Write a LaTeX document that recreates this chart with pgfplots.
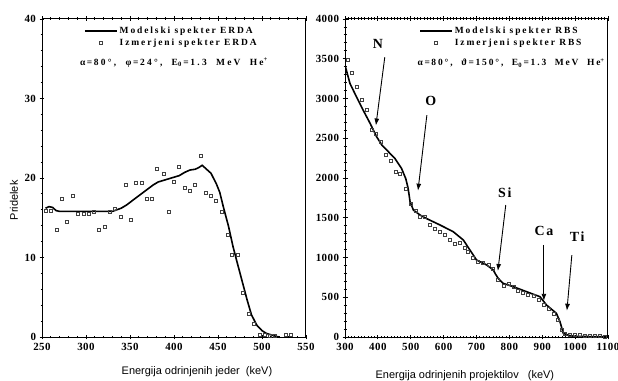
\documentclass[border=0pt]{standalone}
\usepackage{pgfplots}
\pgfplotsset{compat=1.18}
\usetikzlibrary{arrows.meta}
\usepackage{fontspec}
\setmainfont{Liberation Serif}
\newfontfamily\arial{Liberation Sans}
\newfontfamily\legfont[LetterSpace=20]{Liberation Serif}
\newfontfamily\parfont[LetterSpace=24]{Liberation Serif}
\newfontfamily\elfont[LetterSpace=12]{Liberation Serif}
\newfontfamily\tickfont[LetterSpace=4]{Liberation Serif}

\pgfplotstableread{
x y
254 16.2
258 16.4
262 16.3
266 15.9
270 15.8
330 15.8
335 16.0
340 16.2
346 16.6
352 17.1
358 17.6
364 18.1
370 18.6
376 19.1
382 19.5
388 19.7
394 19.9
400 20.1
406 20.3
412 20.7
418 21.0
424 21.1
428 21.3
432 21.6
436 21.2
442 20.6
448 19.3
452 18.2
456 16.4
462 13.9
467 11.4
471 9.7
477 7.2
483 4.7
488 2.8
494 1.5
500 0.8
505 0.45
511 0.25
517 0.05
520 0
}\erdamodel

\pgfplotstableread{
x y
254 15.85
260 15.85
267 13.5
272 17.4
278 14.5
285 17.7
291 15.5
297 15.5
303 15.5
309 15.8
315 13.5
321 13.8
327 15.8
333 16.1
339 15.1
345 19.1
351 14.8
357 19.4
363 19.4
369 17.4
375 17.4
381 21.1
388 20.5
394 15.8
400 19.5
406 21.4
412 18.8
418 18.4
424 19.1
430 22.8
436 18.2
442 17.8
448 17.1
454 15.8
461 12.8
466 10.4
472 10.3
478 5.5
485 2.9
491 1.6
497 0.3
503 0.3
509 0.1
515 0.1
527 0.3
533 0.3
}\erdameas

\pgfplotstableread{
x y
300 3420
315 3190
335 3020
355 2855
376 2690
396 2520
412 2415
432 2330
452 2245
472 2120
485 1990
492 1870
498 1700
508 1597
528 1535
548 1490
589 1409
629 1325
660 1220
680 1094
700 969
731 906
751 843
758 790
766 738
781 675
812 633
852 570
893 507
913 402
943 298
954 192
964 46
984 16
1000 8
1100 2
}\rbsmodel

\pgfplotstableread{
x y
307 3484
320 3317
336 3141
351 2981
366 2864
381 2612
394 2562
409 2457
425 2289
440 2218
455 2075
467 2050
485 1866
501 1673
515 1589
528 1506
543 1514
558 1417
574 1367
589 1325
604 1283
619 1220
634 1178
650 1186
665 1128
675 1073
690 998
705 947
720 935
736 906
751 859
766 717
782 646
797 667
812 633
827 578
842 562
857 537
873 516
888 465
904 402
919 361
934 298
946 214
959 88
970 46
985 30
1000 28
1015 22
1030 18
1045 14
1060 12
1075 10
1090 8
}\rbsmeas

\pgfplotsset{
  common/.style={
    scale only axis,
    axis line style={line width=1bp},
    tick align=center,
    xtick pos=both,
    ytick pos=left,
    major tick length=5bp,
    minor tick length=3bp,
    every tick/.style={black, line width=0.8bp},
    scaled ticks=false,
    /pgf/number format/assume math mode=true,
    /pgf/number format/set thousands separator={},
    ticklabel style={font=\fontsize{11}{13}\selectfont\tickfont\bfseries},
    legend cell align=left,
    legend style={draw=none, fill=none, font=\fontsize{9.5}{11}\selectfont\legfont\bfseries,
      row sep=-0.5bp, inner sep=1bp},
  },
  modelstyle/.style={black, line width=1.6bp, no markers,
    legend image code/.code={\draw[##1] (0bp,0bp) -- (32bp,0bp);}},
  measstyle/.style={only marks, mark=square, mark size=1.5bp,
    mark options={black!75, line width=0.6bp},
    legend image code/.code={\draw[##1] plot coordinates {(16bp,0bp)};}},
}

\begin{document}
\begin{tikzpicture}
\useasboundingbox (0,0) rectangle (618bp,381bp);
% ---------- left: ERDA ----------
\begin{axis}[common,
  at={(42bp,44bp)}, anchor=south west,
  width=264bp, height=318bp,
  xmin=250, xmax=550, ymin=0, ymax=40,
  xtick={250,300,...,550}, minor x tick num=4,
  ytick={0,10,20,30,40}, minor y tick num=4,
  xlabel={\arial\fontsize{11}{13}\selectfont Energija odrinjenih jeder\ \ (keV)},
  xlabel style={at={(axis description cs:0.587,-0.11)}, anchor=center},
  ylabel={\arial\fontsize{11}{13}\selectfont Pridelek},
  ylabel style={at={(axis description cs:-0.106,0.43)}, anchor=center},
  legend style={at={(axis description cs:0.155,0.985)}, anchor=north west},
]
\addplot[modelstyle] table {\erdamodel};
\addlegendentry{Modelski spekter ERDA}
\addplot[measstyle] table {\erdameas};
\addlegendentry{Izmerjeni spekter ERDA}
\node[font=\fontsize{9.5}{11}\selectfont\parfont\bfseries] at (axis description cs:0.50,0.862)
  {α\,=\,80°, \ φ\,=\,24°, \ E\textsubscript{0}\,=\,1.3 \ MeV \ He\textsuperscript{+}};
\end{axis}
% ---------- right: RBS ----------
\begin{axis}[common,
  at={(345bp,44bp)}, anchor=south west,
  width=263bp, height=318bp,
  xmin=300, xmax=1100, ymin=0, ymax=4000,
  xtick={300,400,...,1100}, minor x tick num=9,
  ytick={0,500,...,4000}, minor y tick num=4,
  xlabel={\arial\fontsize{11}{13}\selectfont Energija odrinjenih projektilov\ \ \ (keV)},
  xlabel style={at={(axis description cs:0.456,-0.123)}, anchor=center},
  legend style={at={(axis description cs:0.278,0.985)}, anchor=north west},
]
\addplot[modelstyle] table {\rbsmodel};
\addlegendentry{Modelski spekter RBS}
\addplot[measstyle] table {\rbsmeas};
\addlegendentry{Izmerjeni spekter RBS}
\node[font=\fontsize{9.5}{11}\selectfont\legfont\bfseries] at (axis description cs:0.632,0.862)
  {α\,=\,80°, \ ϑ\,=\,150°, \ E\textsubscript{0}\,=\,1.3 \ MeV \ He\textsuperscript{+}};
% element labels and arrows
\tikzset{el/.style={font=\fontsize{14}{16}\selectfont\elfont\bfseries}}
\node[el] at (axis cs:400,3690) {N};
\draw[line width=0.9bp,-{Latex[length=7bp,width=5bp]}] (axis cs:421,3520) -- (axis cs:394,2660);
\node[el] at (axis cs:561,2970) {O};
\draw[line width=0.9bp,-{Latex[length=7bp,width=5bp]}] (axis cs:549,2790) -- (axis cs:522,1840);
\node[el] at (axis cs:786,1810) {Si};
\draw[line width=0.9bp,-{Latex[length=7bp,width=5bp]}] (axis cs:789,1660) -- (axis cs:765,830);
\node[el] at (axis cs:905,1335) {Ca};
\draw[line width=0.9bp,-{Latex[length=7bp,width=5bp]}] (axis cs:905,1160) -- (axis cs:905,455);
\node[el] at (axis cs:1006,1258) {Ti};
\draw[line width=0.9bp,-{Latex[length=7bp,width=5bp]}] (axis cs:990,1030) -- (axis cs:975,330);
\end{axis}
\end{tikzpicture}
\end{document}
